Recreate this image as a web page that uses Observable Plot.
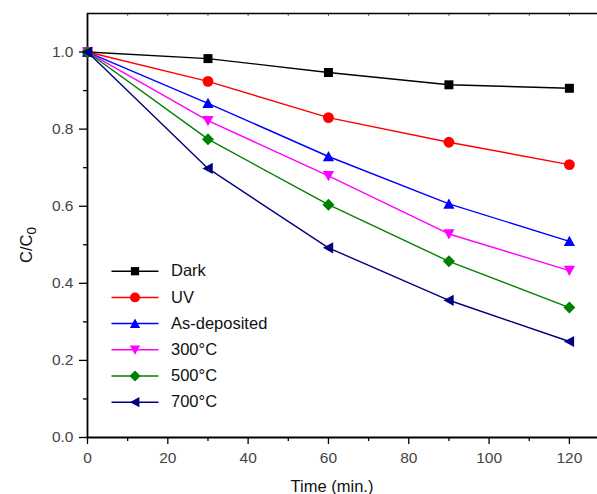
<!DOCTYPE html>
<html><head><meta charset="utf-8">
<script src="https://cdn.jsdelivr.net/npm/d3@7"></script>
<script src="https://cdn.jsdelivr.net/npm/@observablehq/plot@0.6"></script>
<style>html,body{margin:0;padding:0;background:#fff;} #chart{width:597px;height:494px;}</style>
</head><body><div id="chart"></div>
<script>
// ---- data ----
const time = [0, 30, 60, 90, 120];
const seriesNames = ["Dark", "UV", "As-deposited", "300°C", "500°C", "700°C"];
const dark        = [1.0, 0.983, 0.947, 0.915, 0.906];
const uv          = [1.0, 0.924, 0.830, 0.766, 0.708];
const asDeposited = [1.0, 0.867, 0.729, 0.606, 0.509];
const t300        = [1.0, 0.822, 0.679, 0.528, 0.433];
const t500        = [1.0, 0.774, 0.604, 0.457, 0.337];
const t700        = [1.0, 0.698, 0.492, 0.356, 0.249];
const xTicks = [0, 20, 40, 60, 80, 100, 120];
const xMinorTicks = [10, 30, 50, 70, 90, 110];
const yTicks = [0.0, 0.2, 0.4, 0.6, 0.8, 1.0];
const yMinorTicks = [0.1, 0.3, 0.5, 0.7, 0.9];
const topTicks = [0, 10, 20, 30, 40, 50, 60, 70, 80, 90, 100, 110, 120];

const seriesValues = [dark, uv, asDeposited, t300, t500, t700];
const colors = ["#000000", "#ff0000", "#0000ff", "#ff00ff", "#008000", "#000080"];

// ---- symbols ----
const rOf = size => Math.sqrt(size / Math.PI);
const symSquare = {draw(c, size) { const r = rOf(size) * 0.9; c.moveTo(-r, -r); c.lineTo(r, -r); c.lineTo(r, r); c.lineTo(-r, r); c.closePath(); }};
const symCircle = {draw(c, size) { const r = rOf(size) * 1.08; c.moveTo(r, 0); c.arc(0, 0, r, 0, 2 * Math.PI); }};
const symTriUp = {draw(c, size) { const r = rOf(size); c.moveTo(0, -1.1 * r); c.lineTo(1.12 * r, 0.95 * r); c.lineTo(-1.12 * r, 0.95 * r); c.closePath(); }};
const symTriDown = {draw(c, size) { const r = rOf(size); c.moveTo(0, 1.1 * r); c.lineTo(1.12 * r, -0.95 * r); c.lineTo(-1.12 * r, -0.95 * r); c.closePath(); }};
const symDiamond = {draw(c, size) { const r = rOf(size) * 1.2; c.moveTo(0, -r); c.lineTo(r, 0); c.lineTo(0, r); c.lineTo(-r, 0); c.closePath(); }};
const symTriLeft = {draw(c, size) { const r = rOf(size); c.moveTo(-1.1 * r, 0); c.lineTo(0.95 * r, -1.12 * r); c.lineTo(0.95 * r, 1.12 * r); c.closePath(); }};
const symLine = {draw(c, size) { c.moveTo(-23.5, 0); c.lineTo(23.5, 0); }};
const symbols = [symSquare, symCircle, symTriUp, symTriDown, symDiamond, symTriLeft];

const rows = seriesNames.map((name, i) => time.map((t, j) => ({series: name, t, c: seriesValues[i][j]})));

const font = "'Liberation Sans', Arial, Helvetica, sans-serif";

const marks = [
  // frame pieces
  Plot.ruleY([1.1], {stroke: "#000", strokeWidth: 1.5}),
  Plot.tickX(topTicks, {x: d => d, insetBottom: 421, stroke: "#000", strokeWidth: 1, strokeOpacity: 0.6}),
  // axes
  Plot.axisX({ticks: xTicks, tickSize: 7, tickPadding: 7, tickFormat: d => String(d), label: null, fill: "#444", stroke: "#000", fontSize: 15.5, strokeWidth: 1.3, ariaLabel: "xticks"}),
  Plot.axisX({ticks: xMinorTicks, tickSize: 4, text: null, label: null, stroke: "#000", strokeWidth: 1.3}),
  Plot.axisY({ticks: yTicks, tickSize: 8, tickPadding: 6, tickFormat: d => d.toFixed(1), label: null, fill: "#444", stroke: "#000", fontSize: 15.5, strokeWidth: 1.3, ariaLabel: "yticks"}),
  Plot.axisY({ticks: yMinorTicks, tickSize: 4, text: null, label: null, stroke: "#000", strokeWidth: 1.3}),
  Plot.ruleX([0], {stroke: "#000", strokeWidth: 1.8}),
  Plot.ruleY([0], {stroke: "#000", strokeWidth: 1.8}),
];

rows.forEach((data, i) => {
  marks.push(Plot.line(data, {x: "t", y: "c", stroke: colors[i], strokeWidth: 1.4}));
});
rows.forEach((data, i) => {
  marks.push(Plot.dot(data, {x: "t", y: "c", symbol: symbols[i], fill: colors[i], stroke: "none", r: 5}));
});

// legend
seriesNames.forEach((name, i) => {
  const dy = 257.7 + i * 26.2;
  marks.push(Plot.dot([name], {frameAnchor: "top-left", dx: 47.5, dy, symbol: symLine, stroke: colors[i], fill: "none", strokeWidth: 1.5, r: 5}));
  marks.push(Plot.dot([name], {frameAnchor: "top-left", dx: 47.5, dy, symbol: symbols[i], fill: colors[i], stroke: "none", r: 4.6}));
  marks.push(Plot.text([name], {frameAnchor: "top-left", lineAnchor: "middle", dx: 83.5, dy, text: d => d, textAnchor: "start", fontSize: 16.5, fill: "#111", ariaLabel: "legend"}));
});

// x axis title
marks.push(Plot.text(["Time (min.)"], {frameAnchor: "bottom", lineAnchor: "middle", dx: -10.5, dy: 49, text: d => d, fontSize: 16.5, fill: "#111", ariaLabel: "xtitle"}));

const chart = Plot.plot({
  width: 597,
  height: 494,
  marginLeft: 87,
  marginRight: 0,
  marginTop: 13,
  marginBottom: 57,
  x: {domain: [0, 127]},
  y: {domain: [0, 1.1]},
  style: {fontFamily: font, fontSize: "15.5px", background: "#fff", color: "#000", overflow: "visible"},
  marks
});

const svg = d3.select(chart);
// enforce font sizes
svg.selectAll('g[aria-label="xticks"], g[aria-label="yticks"]').attr("font-size", 15.5).selectAll("text").attr("font-size", 15.5);
svg.selectAll('g[aria-label="legend"], g[aria-label="xtitle"]').attr("font-size", 16.5).selectAll("text").attr("font-size", 16.5);

// y axis title with subscript
const yt = svg.append("text")
  .attr("transform", "translate(32,245) rotate(-90)")
  .attr("text-anchor", "middle")
  .attr("font-family", font)
  .attr("font-size", 16.5)
  .attr("fill", "#111");
yt.append("tspan").text("C/C");
yt.append("tspan").attr("font-size", 13.5).attr("dy", 4).text("0");

document.getElementById("chart").appendChild(chart);
</script>
</body></html>
